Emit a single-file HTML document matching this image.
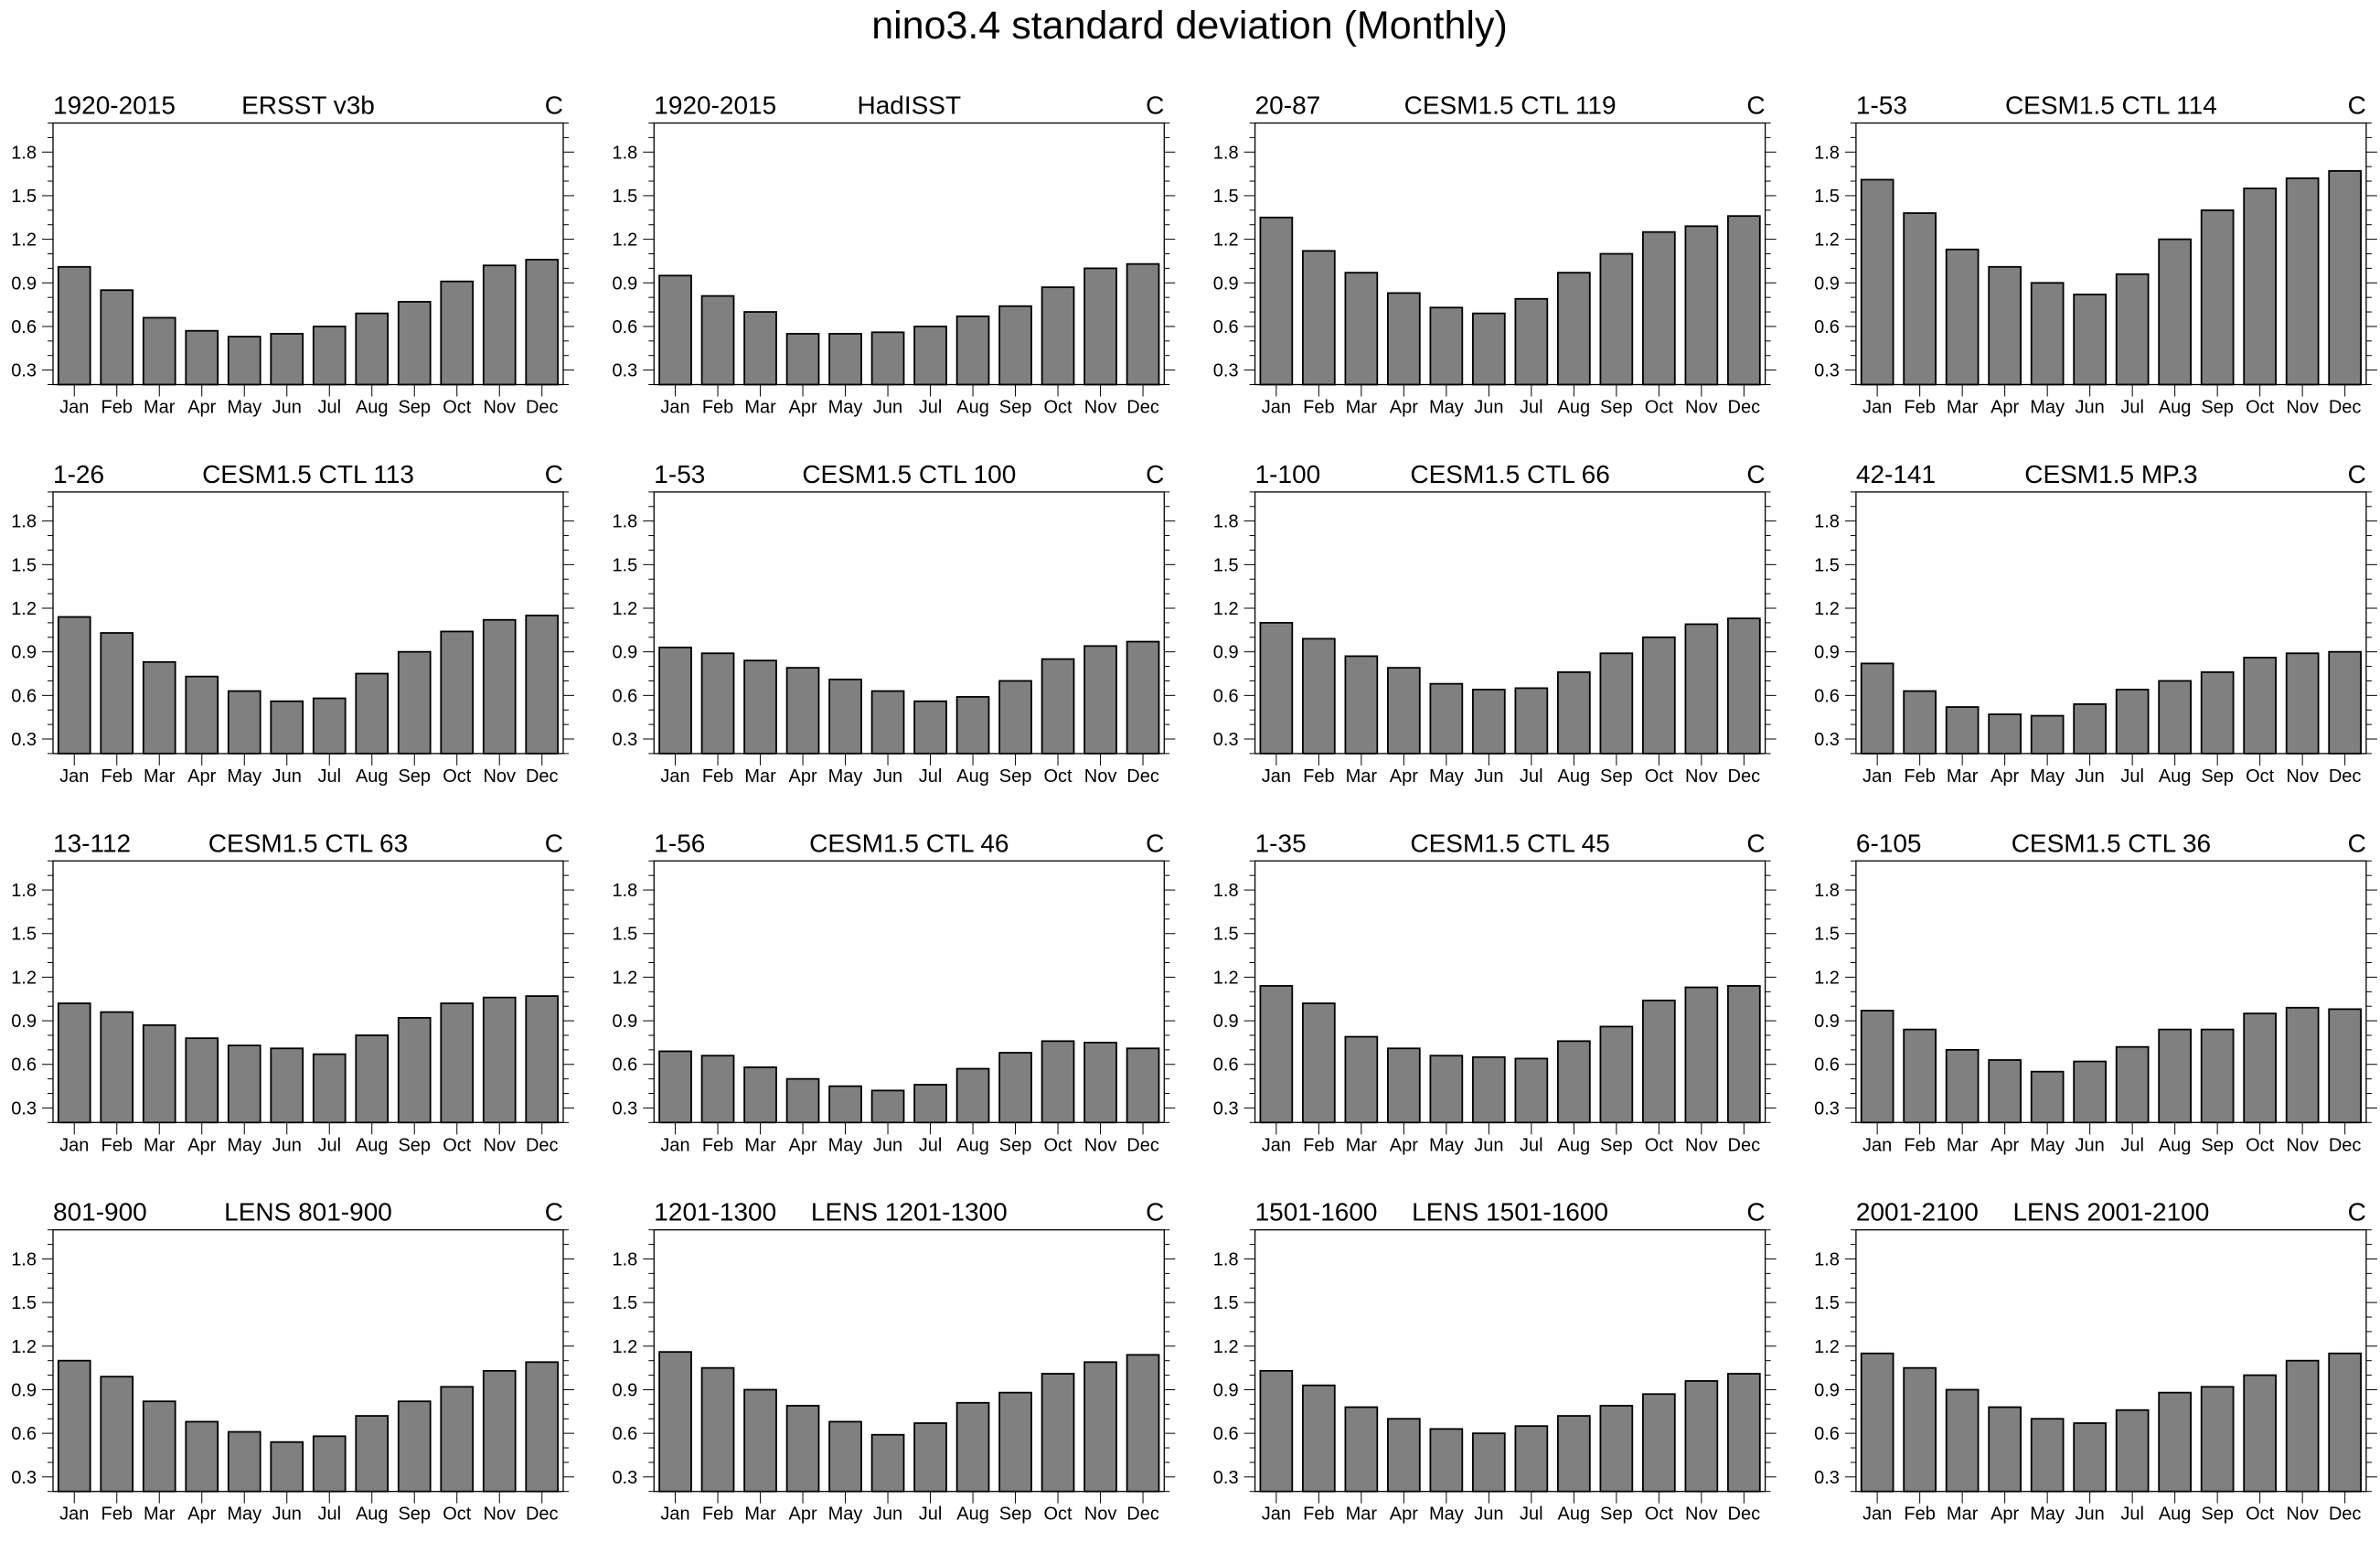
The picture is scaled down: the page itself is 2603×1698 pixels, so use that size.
<!DOCTYPE html>
<html><head><meta charset="utf-8"><style>
html,body{margin:0;padding:0;background:#fff;}
svg{display:block;font-family:"Liberation Sans",sans-serif;}
</style></head><body>
<svg id="fig" width="2603" height="1698" viewBox="0 0 2603 1698">
<text x="1301" y="42" text-anchor="middle" font-size="43">nino3.4 standard deviation (Monthly)</text>
</svg>
<script>
const months = ["Jan","Feb","Mar","Apr","May","Jun","Jul","Aug","Sep","Oct","Nov","Dec"];
const yTicks = [0.3,0.6,0.9,1.2,1.5,1.8];
const leftTitles = ["1920-2015","1920-2015","20-87","1-53","1-26","1-53","1-100","42-141","13-112","1-56","1-35","6-105","801-900","1201-1300","1501-1600","2001-2100"];
const centerTitles = ["ERSST v3b","HadISST","CESM1.5 CTL 119","CESM1.5 CTL 114","CESM1.5 CTL 113","CESM1.5 CTL 100","CESM1.5 CTL 66","CESM1.5 MP.3","CESM1.5 CTL 63","CESM1.5 CTL 46","CESM1.5 CTL 45","CESM1.5 CTL 36","LENS 801-900","LENS 1201-1300","LENS 1501-1600","LENS 2001-2100"];
const s01 = [1.01,0.85,0.66,0.57,0.53,0.55,0.60,0.69,0.77,0.91,1.02,1.06];
const s02 = [0.95,0.81,0.70,0.55,0.55,0.56,0.60,0.67,0.74,0.87,1.00,1.03];
const s03 = [1.35,1.12,0.97,0.83,0.73,0.69,0.79,0.97,1.10,1.25,1.29,1.36];
const s04 = [1.61,1.38,1.13,1.01,0.90,0.82,0.96,1.20,1.40,1.55,1.62,1.67];
const s05 = [1.14,1.03,0.83,0.73,0.63,0.56,0.58,0.75,0.90,1.04,1.12,1.15];
const s06 = [0.93,0.89,0.84,0.79,0.71,0.63,0.56,0.59,0.70,0.85,0.94,0.97];
const s07 = [1.10,0.99,0.87,0.79,0.68,0.64,0.65,0.76,0.89,1.00,1.09,1.13];
const s08 = [0.82,0.63,0.52,0.47,0.46,0.54,0.64,0.70,0.76,0.86,0.89,0.90];
const s09 = [1.02,0.96,0.87,0.78,0.73,0.71,0.67,0.80,0.92,1.02,1.06,1.07];
const s10 = [0.69,0.66,0.58,0.50,0.45,0.42,0.46,0.57,0.68,0.76,0.75,0.71];
const s11 = [1.14,1.02,0.79,0.71,0.66,0.65,0.64,0.76,0.86,1.04,1.13,1.14];
const s12 = [0.97,0.84,0.70,0.63,0.55,0.62,0.72,0.84,0.84,0.95,0.99,0.98];
const s13 = [1.10,0.99,0.82,0.68,0.61,0.54,0.58,0.72,0.82,0.92,1.03,1.09];
const s14 = [1.16,1.05,0.90,0.79,0.68,0.59,0.67,0.81,0.88,1.01,1.09,1.14];
const s15 = [1.03,0.93,0.78,0.70,0.63,0.60,0.65,0.72,0.79,0.87,0.96,1.01];
const s16 = [1.15,1.05,0.90,0.78,0.70,0.67,0.76,0.88,0.92,1.00,1.10,1.15];
const series = [s01,s02,s03,s04,s05,s06,s07,s08,s09,s10,s11,s12,s13,s14,s15,s16];

const NS = "http://www.w3.org/2000/svg";
const svg = document.getElementById("fig");
const YMIN = 0.2, YMAX = 2.0;
const W = 558, H = 286;
function mk(tag, attrs, parent){const e=document.createElementNS(NS,tag);for(const k in attrs)e.setAttribute(k,attrs[k]);parent.appendChild(e);return e;}

series.forEach((vals, p) => {
  const col = p % 4, row = Math.floor(p / 4);
  const x0 = 58 + col * 657.3, y0 = 134.5 + row * 403.4;
  const xs = i => x0 + (i + 1) * W / 12 - W / 24;
  const ys = v => y0 + H - (v - YMIN) / (YMAX - YMIN) * H;
  const g = mk("g", {}, svg);
  
  
  const bw = W / 12 * 0.75;
  vals.forEach((v, i) => {
    const r = mk("rect", {x: xs(i) - bw / 2, y: ys(v), width: bw, height: ys(YMIN) - ys(v), fill: "#808080", stroke: "#000", "stroke-width": 1.8}, g);
    
    
  });
  const box = mk("rect", {x: x0, y: y0, width: W, height: H, fill: "none", stroke: "#000", "stroke-width": 1.3}, g);
  
  
  for (let k = 2; k <= 20; k++) {
    const v = k / 10, y = ys(v);
    const major = (k % 3 === 0);
    const len = major ? 12 : 6;
    mk("line", {x1: x0 - len, x2: x0, y1: y, y2: y, stroke: "#000", "stroke-width": 1}, g);
    mk("line", {x1: x0 + W, x2: x0 + W + len, y1: y, y2: y, stroke: "#000", "stroke-width": 1}, g);
  }
  yTicks.forEach(v => {
    const t = mk("text", {x: x0 - 18, y: ys(v) + 7, "text-anchor": "end", "font-size": 20}, g);
    t.textContent = v.toFixed(1);
    
    
  });
  months.forEach((m, i) => {
    mk("line", {x1: xs(i), x2: xs(i), y1: y0 + H, y2: y0 + H + 13, stroke: "#000", "stroke-width": 1}, g);
    const t = mk("text", {x: xs(i), y: y0 + H + 31, "text-anchor": "middle", "font-size": 20}, g);
    t.textContent = m;
    
    
  });
  const lt = mk("text", {x: x0, y: y0 - 10, "font-size": 28}, g);
  lt.textContent = leftTitles[p];
  
  
  const ct = mk("text", {x: x0 + W / 2, y: y0 - 10, "font-size": 28, "text-anchor": "middle"}, g);
  ct.textContent = centerTitles[p];
  
  
  const rt = mk("text", {x: x0 + W, y: y0 - 10, "font-size": 28, "text-anchor": "end"}, g);
  rt.textContent = "C";
  
  
});
</script>
</body></html>
